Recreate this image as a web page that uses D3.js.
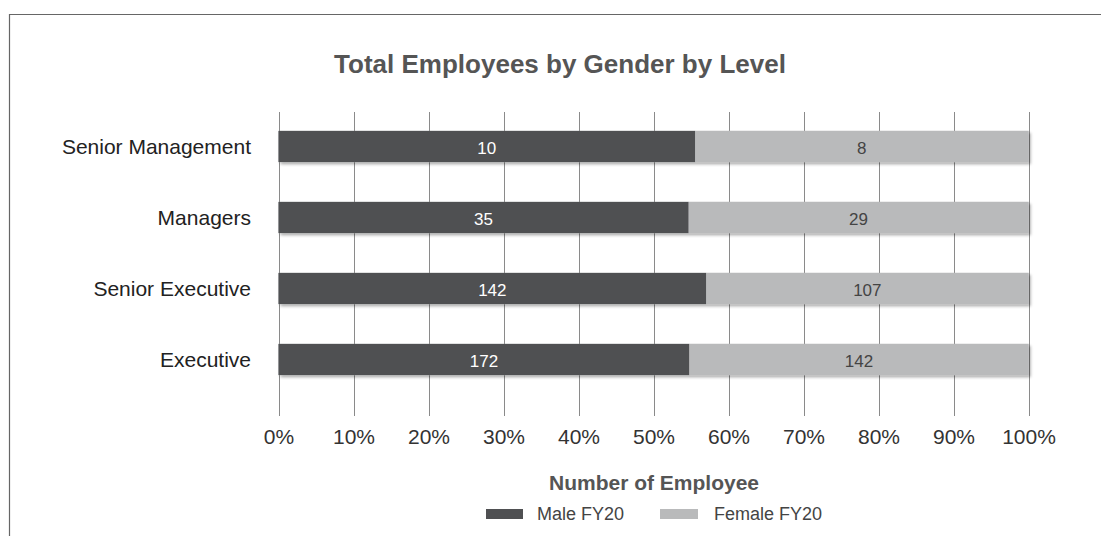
<!DOCTYPE html>
<html lang="en">
<head>
  <meta charset="UTF-8">
  <title>Total Employees by Gender by Level</title>
  <style>
    body { margin: 0; background: #fff; }
    #chart { width: 1101px; height: 536px; }
    svg text { font-family: "Liberation Sans", Arial, Helvetica, sans-serif; }
  </style>
</head>
<body>
  <div id="chart"></div>

  <script src="https://d3js.org/d3.v7.min.js"></script>
  <script>
    // data
    const levels = ["Senior Management", "Managers", "Senior Executive", "Executive"];
    const male = [10, 35, 142, 172];
    const female = [8, 29, 107, 142];
    const seriesNames = ["Male FY20", "Female FY20"];
    const ticks = [0, 0.1, 0.2, 0.3, 0.4, 0.5, 0.6, 0.7, 0.8, 0.9, 1];

    const colors = ["#4f5052", "#b9babb"];
    const labelColors = ["#ffffff", "#444444"];

    const W = 1101, H = 536;
    const svg = d3.select("#chart").append("svg")
      .attr("width", W)
      .attr("height", H);

    // drop shadow like the original
    const defs = svg.append("defs");
    const f = defs.append("filter").attr("id", "shadow")
      .attr("x", "-5%").attr("y", "-20%").attr("width", "110%").attr("height", "160%");
    f.append("feDropShadow")
      .attr("dx", 2).attr("dy", 2).attr("stdDeviation", 1.6)
      .attr("flood-color", "#000").attr("flood-opacity", 0.35);

    // frame
    svg.append("path")
      .attr("d", `M9.5,${H} V14.5 H${W}`)
      .attr("fill", "none")
      .attr("stroke", "#666")
      .attr("stroke-width", 1.2);

    // title
    svg.append("text")
      .attr("x", 560).attr("y", 73)
      .attr("text-anchor", "middle")
      .attr("font-size", 26).attr("font-weight", "bold")
      .attr("fill", "#555")
      .text("Total Employees by Gender by Level");

    const x = d3.scaleLinear().domain([0, 1]).range([278.5, 1028.5]);
    const y = d3.scaleBand().domain(levels).range([111, 395]).paddingInner(0.56).paddingOuter(0.28);

    // grid lines
    svg.append("g")
      .selectAll("line")
      .data(ticks)
      .join("line")
      .attr("x1", d => Math.round(x(d)) + 0.5)
      .attr("x2", d => Math.round(x(d)) + 0.5)
      .attr("y1", 112).attr("y2", 416)
      .attr("stroke", "#8a8a8a")
      .attr("stroke-width", 1);

    // tick labels
    const xAxis = d3.axisBottom(x)
      .tickValues(ticks)
      .tickFormat(d3.format(".0%"))
      .tickSize(0)
      .tickPadding(0);
    const ax = svg.append("g")
      .attr("transform", "translate(0,444)")
      .call(xAxis);
    ax.select(".domain").remove();
    ax.selectAll("text")
      .attr("font-size", 21)
      .attr("fill", "#333")
      .attr("y", 0)
      .attr("dy", 0)
      .style("font-family", '"Liberation Sans", Arial, sans-serif');

    // stacked bars
    const rows = levels.map((lv, i) => {
      const total = male[i] + female[i];
      return { level: lv, vals: [male[i], female[i]], total };
    });

    const rowG = svg.append("g").selectAll("g")
      .data(rows)
      .join("g")
      .attr("transform", d => `translate(0,${y(d.level)})`);

    rowG.append("rect")
      .attr("x", x(0))
      .attr("y", 0)
      .attr("width", x(1) - x(0))
      .attr("height", y.bandwidth())
      .attr("fill", colors[1])
      .attr("filter", "url(#shadow)");

    rowG.each(function(d) {
      const g = d3.select(this);
      let acc = 0;
      d.vals.forEach((v, k) => {
        const x0 = x(acc / d.total), x1 = x((acc + v) / d.total);
        g.append("rect")
          .attr("x", x0).attr("y", 0)
          .attr("width", x1 - x0)
          .attr("height", y.bandwidth())
          .attr("fill", colors[k]);
        g.append("text")
          .attr("x", (x0 + x1) / 2)
          .attr("y", y.bandwidth() / 2 + 1)
          .attr("dy", "0.36em")
          .attr("text-anchor", "middle")
          .attr("font-size", 17)
          .attr("fill", labelColors[k])
          .text(v);
        acc += v;
      });
    });

    // category labels
    svg.append("g").selectAll("text")
      .data(levels)
      .join("text")
      .attr("x", 251)
      .attr("y", d => y(d) + y.bandwidth() / 2)
      .attr("dy", "0.36em")
      .attr("text-anchor", "end")
      .attr("font-size", 21)
      .attr("fill", "#222")
      .text(d => d);

    // axis title
    svg.append("text")
      .attr("x", 654).attr("y", 490)
      .attr("text-anchor", "middle")
      .attr("font-size", 21).attr("font-weight", "bold")
      .attr("fill", "#555")
      .text("Number of Employee");

    // legend
    const legendX = [486, 660];
    const lg = svg.append("g").selectAll("g")
      .data(seriesNames)
      .join("g")
      .attr("transform", (d, i) => `translate(${legendX[i]},509)`);
    lg.append("rect")
      .attr("width", (d, i) => i === 0 ? 37 : 38)
      .attr("height", 10)
      .attr("fill", (d, i) => colors[i]);
    lg.append("text")
      .attr("x", (d, i) => i === 0 ? 51 : 54)
      .attr("y", 5)
      .attr("dy", "0.36em")
      .attr("font-size", 18)
      .attr("fill", "#444")
      .text(d => d);
  </script>
</body>
</html>
